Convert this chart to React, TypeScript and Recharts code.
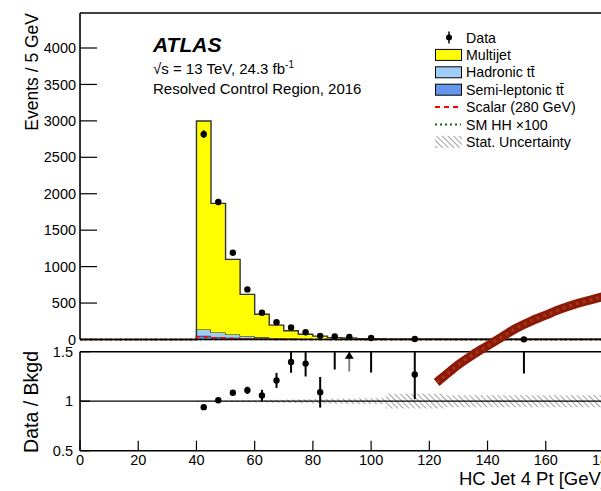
import React from "react";
import {
  ComposedChart,
  Area,
  Line,
  Scatter,
  XAxis,
  YAxis,
  ErrorBar,
  ReferenceLine,
} from "recharts";

// histogram bins (GeV edges) and stacked background yields per bin
const binEdges = [40, 45, 50, 55, 60, 65, 70, 75, 80, 85, 90, 95, 105, 125, 180];
const multijet = [2861, 1772, 1030, 574, 316, 177, 106, 63, 40, 22, 17, 10, 4, 0.6];
const hadronicTT = [87, 61, 44, 27, 18, 12, 8, 5, 3, 2, 2, 1, 0.5, 0.2];
const semiLepTT = [50, 35, 25, 18, 12, 8, 5, 4, 3, 2, 1, 1, 0.5, 0.2];
const scalar280 = [35, 22, 12, 6, 3, 1, 0.5, 0.3, 0.2, 0.1, 0.1, 0.1, 0.1, 0.1];
const smHH = [0.3, 0.3, 0.2, 0.2, 0.1, 0.1, 0.1, 0.1, 0.1, 0, 0, 0, 0, 0];
const statUnc = [0.006, 0.006, 0.008, 0.01, 0.012, 0.015, 0.018, 0.02, 0.022, 0.025, 0.028, 0.03, 0.075, 0.06];

// data points (main panel)
const dataX = [42.5, 47.5, 52.5, 57.5, 62.5, 67.5, 72.5, 77.5, 82.5, 87.5, 92.5, 100, 115, 152.5];
const dataY = [2818, 1887, 1191, 687, 366, 238, 165, 100, 50, 41, 36, 20, 6, 2];
const dataErr = [53, 43, 35, 26, 19, 15, 13, 10, 7, 6, 6, 4.5, 2.4, 1.4];

// data / background (ratio panel)
const ratioX = [42.5, 47.5, 52.5, 57.5, 62.5, 67.5, 72.5, 77.5, 82.5, 87.5, 100, 115, 152.5];
const ratioY = [0.94, 1.01, 1.085, 1.11, 1.057, 1.21, 1.397, 1.38, 1.09, 1.58, 1.67, 1.27, 2.0];
const ratioErrLow = [0.02, 0.02, 0.025, 0.037, 0.058, 0.076, 0.11, 0.13, 0.155, 0.26, 0.38, 0.25, 0.72];
const ratioErrHigh = [0.02, 0.02, 0.025, 0.037, 0.058, 0.076, 0.12, 0.14, 0.155, 0.28, 0.4, 0.3, 0.8];
// off-scale arrow
const arrowX = [92.5];
const arrowY = [1.465];
const arrowErrLow = [0.165];

// scalar signal ratio curve (drawn across the panels)
const sigX = [122.5, 125, 130, 135, 140, 145, 150, 155, 160, 165, 170, 175, 180];
const sigY = [1.19, 1.25, 1.37, 1.47, 1.56, 1.65, 1.74, 1.81, 1.87, 1.93, 1.98, 2.02, 2.06];

// ticks
const range = (a: number, b: number, s: number) => {
  const out: number[] = [];
  for (let v = a; v <= b + 1e-9; v += s) out.push(Math.round(v * 1000) / 1000);
  return out;
};
const xMajor = [0, 20, 40, 60, 80, 100, 120, 140, 160, 180];
const xMinor = range(0, 180, 4);
const yMainMajor = [0, 500, 1000, 1500, 2000, 2500, 3000, 3500, 4000];
const yMainMinor = range(0, 4400, 100);
const yRatioMajor = [0.5, 1, 1.5];
const yRatioMinor = range(0.5, 1.5, 0.1);
const RATIO_MAX = 1.5;

const FONT = "'Liberation Sans', Arial, Helvetica, sans-serif";
const W = 620;
const PLOT_RIGHT = 604;
const THIN = 0.01; // axes with zero size are not drawn

const last = binEdges.length - 2;
const histRows = [
  { x: 0, semi: 0, had: 0, multi: 0, scalar: 0, hh: 0 },
  ...binEdges.map((x, i) => {
    const k = Math.min(i, last);
    return {
      x,
      semi: semiLepTT[k],
      had: hadronicTT[k],
      multi: multijet[k],
      scalar: scalar280[k],
      hh: smHH[k],
    };
  }),
];
const bandRows = binEdges.map((x, i) => {
  const u = statUnc[Math.min(i, last)];
  return { x, band: [1 - u, 1 + u] };
});
const dataPts = dataX.map((x, i) => ({ x, y: dataY[i], err: dataErr[i] }));
// error bars stop at the top of the ratio frame
const ratioPts = ratioX.map((x, i) => ({
  x,
  y: ratioY[i],
  err: [ratioErrLow[i], Math.min(ratioY[i] + ratioErrHigh[i], RATIO_MAX) - ratioY[i]],
}));
const arrowPts = arrowX.map((x, i) => ({ x, y: arrowY[i], err: [arrowErrLow[i], RATIO_MAX - arrowY[i]] }));
const sigRows = sigX.map((x, i) => ({ x, r: sigY[i] }));

const frame = { stroke: "#000", strokeWidth: 1.6 };
const tickLn = { stroke: "#000", strokeWidth: 1.2 };
const tickTxt = { fontSize: 14.5, fill: "#000", fontFamily: FONT };

const DataDot = (p: any) => <circle cx={p.cx} cy={p.cy} r={3.2} fill="#000" />;
const ArrowUp = (p: any) => (
  <polygon
    points={`${p.cx - 4.5},${p.cy + 3.5} ${p.cx + 4.5},${p.cy + 3.5} ${p.cx},${p.cy - 3.5}`}
    fill="#000"
  />
);

const abs: React.CSSProperties = { position: "absolute", left: 0, top: 0 };

function MainPanel() {
  return (
    <ComposedChart
      width={W}
      height={350}
      data={histRows}
      margin={{ top: 13, right: W - PLOT_RIGHT, bottom: 10.5, left: 80 }}
      style={abs}
    >
      <XAxis xAxisId="x" dataKey="x" type="number" domain={[0, 180]} ticks={xMajor} interval={0} height={THIN} tickSize={-8} tick={false} axisLine={frame} tickLine={tickLn} />
      <XAxis xAxisId="xb" type="number" domain={[0, 180]} ticks={xMinor} interval={0} height={THIN} tickSize={-4} tick={false} axisLine={false} tickLine={tickLn} allowDataOverflow />
      <XAxis xAxisId="xt" orientation="top" type="number" domain={[0, 180]} ticks={xMajor} interval={0} height={THIN} tickSize={-8} tick={false} axisLine={frame} tickLine={tickLn} allowDataOverflow />
      <XAxis xAxisId="xt2" orientation="top" type="number" domain={[0, 180]} ticks={xMinor} interval={0} height={THIN} tickSize={-4} tick={false} axisLine={false} tickLine={tickLn} allowDataOverflow />
      <YAxis yAxisId="y" type="number" domain={[0, 4480]} ticks={yMainMajor} interval={0} width={THIN} tickSize={-17} tickMargin={21} tick={tickTxt} axisLine={frame} tickLine={tickLn} />
      <YAxis yAxisId="yl" type="number" domain={[0, 4480]} ticks={yMainMinor} interval={0} width={THIN} tickSize={-8.5} tick={false} axisLine={false} tickLine={tickLn} allowDataOverflow />
      <YAxis yAxisId="yr" orientation="right" type="number" domain={[0, 4480]} ticks={yMainMajor} interval={0} width={THIN} tickSize={-17} tick={false} axisLine={frame} tickLine={tickLn} allowDataOverflow />
      <YAxis yAxisId="yr2" orientation="right" type="number" domain={[0, 4480]} ticks={yMainMinor} interval={0} width={THIN} tickSize={-8.5} tick={false} axisLine={false} tickLine={tickLn} allowDataOverflow />

      <Area xAxisId="x" yAxisId="y" type="stepAfter" dataKey="semi" stackId="bkg" fill="#6496ee" fillOpacity={1} stroke="#222" strokeWidth={1.2} isAnimationActive={false} />
      <Area xAxisId="x" yAxisId="y" type="stepAfter" dataKey="had" stackId="bkg" fill="#a0cdf5" fillOpacity={1} stroke="#222" strokeWidth={1.2} isAnimationActive={false} />
      <Area xAxisId="x" yAxisId="y" type="stepAfter" dataKey="multi" stackId="bkg" fill="#ffff00" fillOpacity={1} stroke="#333" strokeWidth={1.4} isAnimationActive={false} />
      <Line xAxisId="x" yAxisId="y" type="stepAfter" dataKey="hh" stroke="#0b6b1f" strokeWidth={1.8} strokeDasharray="2 3" dot={false} isAnimationActive={false} />
      <Line xAxisId="x" yAxisId="y" type="stepAfter" dataKey="scalar" stroke="#ff0000" strokeWidth={1.6} strokeDasharray="5 4" dot={false} isAnimationActive={false} />
      <Scatter xAxisId="x" yAxisId="y" data={dataPts} dataKey="y" shape={DataDot} isAnimationActive={false}>
        <ErrorBar dataKey="err" direction="y" width={0} stroke="#000" strokeWidth={1.8} />
      </Scatter>
    </ComposedChart>
  );
}

function RatioPanel() {
  return (
    <ComposedChart
      width={W}
      height={491}
      data={bandRows}
      margin={{ top: 351.7, right: W - PLOT_RIGHT, bottom: 491 - 450.7, left: 80 }}
      style={abs}
    >
      <XAxis xAxisId="x" dataKey="x" type="number" domain={[0, 180]} ticks={xMajor} interval={0} height={THIN} tickSize={-10} tickMargin={14} tick={tickTxt} axisLine={frame} tickLine={tickLn} allowDataOverflow />
      <XAxis xAxisId="xb" type="number" domain={[0, 180]} ticks={xMinor} interval={0} height={THIN} tickSize={-5} tick={false} axisLine={false} tickLine={tickLn} allowDataOverflow />
      <XAxis xAxisId="xt" orientation="top" type="number" domain={[0, 180]} ticks={xMajor} interval={0} height={THIN} tickSize={-7} tick={false} axisLine={frame} tickLine={tickLn} allowDataOverflow />
      <XAxis xAxisId="xt2" orientation="top" type="number" domain={[0, 180]} ticks={xMinor} interval={0} height={THIN} tickSize={-3.5} tick={false} axisLine={false} tickLine={tickLn} allowDataOverflow />
      <YAxis yAxisId="y" type="number" domain={[0.5, 1.5]} ticks={yRatioMajor} interval={0} width={THIN} tickSize={-10} tickMargin={17} tick={tickTxt} axisLine={frame} tickLine={tickLn} allowDataOverflow />
      <YAxis yAxisId="yl" type="number" domain={[0.5, 1.5]} ticks={yRatioMinor} interval={0} width={THIN} tickSize={-5} tick={false} axisLine={false} tickLine={tickLn} allowDataOverflow />
      <YAxis yAxisId="yr" orientation="right" type="number" domain={[0.5, 1.5]} ticks={yRatioMajor} interval={0} width={THIN} tickSize={-10} tick={false} axisLine={frame} tickLine={tickLn} allowDataOverflow />
      <YAxis yAxisId="yr2" orientation="right" type="number" domain={[0.5, 1.5]} ticks={yRatioMinor} interval={0} width={THIN} tickSize={-5} tick={false} axisLine={false} tickLine={tickLn} allowDataOverflow />

      <Area xAxisId="x" yAxisId="y" type="stepAfter" dataKey="band" fill="url(#hatch)" fillOpacity={1} stroke="none" isAnimationActive={false} />
      <ReferenceLine xAxisId="x" yAxisId="y" y={1} stroke="#000" strokeWidth={1.2} />
      <Scatter xAxisId="x" yAxisId="y" data={arrowPts} dataKey="y" shape={ArrowUp} isAnimationActive={false}>
        <ErrorBar dataKey="err" direction="y" width={0} stroke="#777" strokeWidth={1.8} />
      </Scatter>
      <Scatter xAxisId="x" yAxisId="y" data={ratioPts} dataKey="y" shape={DataDot} isAnimationActive={false}>
        <ErrorBar dataKey="err" direction="y" width={0} stroke="#000" strokeWidth={2} />
      </Scatter>
    </ComposedChart>
  );
}

function SignalOverlay() {
  // ratio units: 1.0 at y=401.2, 99 px per unit
  return (
    <ComposedChart
      width={W}
      height={491}
      data={sigRows}
      margin={{ top: 282.4, right: W - PLOT_RIGHT, bottom: 491 - 401.2, left: 80 }}
      style={abs}
    >
      <XAxis dataKey="x" type="number" domain={[0, 180]} hide />
      <YAxis type="number" domain={[1, 2.2]} hide />
      <Line type="monotone" dataKey="r" stroke="#8b1a06" strokeWidth={9} dot={false} isAnimationActive={false} />
      <Line type="monotone" dataKey="r" stroke="#a8331a" strokeWidth={3} strokeDasharray="3 4" dot={false} isAnimationActive={false} />
    </ComposedChart>
  );
}

const legendRows = [
  { label: "Data", kind: "data" },
  { label: "Multijet", kind: "box", fill: "#ffff00" },
  { label: "Hadronic tt\u0304", kind: "box", fill: "#a0cdf5" },
  { label: "Semi-leptonic tt\u0304", kind: "box", fill: "#6496ee" },
  { label: "Scalar (280 GeV)", kind: "line", stroke: "#ff0000", dash: "5 4" },
  { label: "SM HH \u00d7100", kind: "line", stroke: "#0b6b1f", dash: "2 3" },
  { label: "Stat. Uncertainty", kind: "hatch" },
];

function Overlay() {
  return (
    <svg width={601} height={491} style={abs} fontFamily={FONT}>
      <text x={153} y={51.5} fontSize={21} fontWeight="bold" fontStyle="italic" fill="#000">
        ATLAS
      </text>
      <text x={153} y={74} fontSize={15} fill="#000">
        {"\u221As = 13 TeV, 24.3 fb"}
        <tspan fontSize={10} dy={-6}>-1</tspan>
      </text>
      <text x={153} y={94} fontSize={15} fill="#000">
        Resolved Control Region, 2016
      </text>

      <text transform="translate(37.5,13) rotate(-90)" textAnchor="end" fontSize={17.5} fill="#000">
        Events / 5 GeV
      </text>
      <text transform="translate(38,351) rotate(-90)" textAnchor="end" fontSize={19.5} fill="#000">
        Data / Bkgd
      </text>
      <text x={606} y={485} textAnchor="end" fontSize={18.5} fill="#000">
        HC Jet 4 Pt [GeV]
      </text>

      {legendRows.map((r, i) => {
        const cy = 37.5 + i * 17.4;
        return (
          <g key={r.label}>
            {r.kind === "data" && (
              <g>
                <line x1={449} x2={449} y1={cy - 6} y2={cy + 6} stroke="#000" strokeWidth={1.5} />
                <circle cx={449} cy={cy} r={3} fill="#000" />
              </g>
            )}
            {r.kind === "box" && (
              <rect x={435.5} y={cy - 5.5} width={26} height={11} fill={r.fill} stroke="#000" strokeWidth={1} />
            )}
            {r.kind === "line" && (
              <line x1={435} x2={461} y1={cy} y2={cy} stroke={r.stroke} strokeWidth={2} strokeDasharray={r.dash} />
            )}
            {r.kind === "hatch" && <rect x={435} y={cy - 6} width={27} height={12} fill="url(#hatch)" />}
            <text x={466} y={cy + 5} fontSize={14.2} fill="#000">
              {r.label}
            </text>
          </g>
        );
      })}
    </svg>
  );
}

export default function App() {
  return (
    <div
      style={{
        position: "fixed",
        left: 0,
        top: 0,
        width: 601,
        height: 491,
        overflow: "hidden",
        background: "#fff",
        fontFamily: FONT,
      }}
    >
      <svg width={0} height={0} style={{ position: "absolute" }}>
        <defs>
          <pattern id="hatch" width={4} height={4} patternUnits="userSpaceOnUse" patternTransform="rotate(-45)">
            <line x1={0} y1={0} x2={0} y2={4} stroke="#8a8a8a" strokeWidth={1.6} />
          </pattern>
        </defs>
      </svg>
      <MainPanel />
      <RatioPanel />
      <SignalOverlay />
      <Overlay />
    </div>
  );
}
